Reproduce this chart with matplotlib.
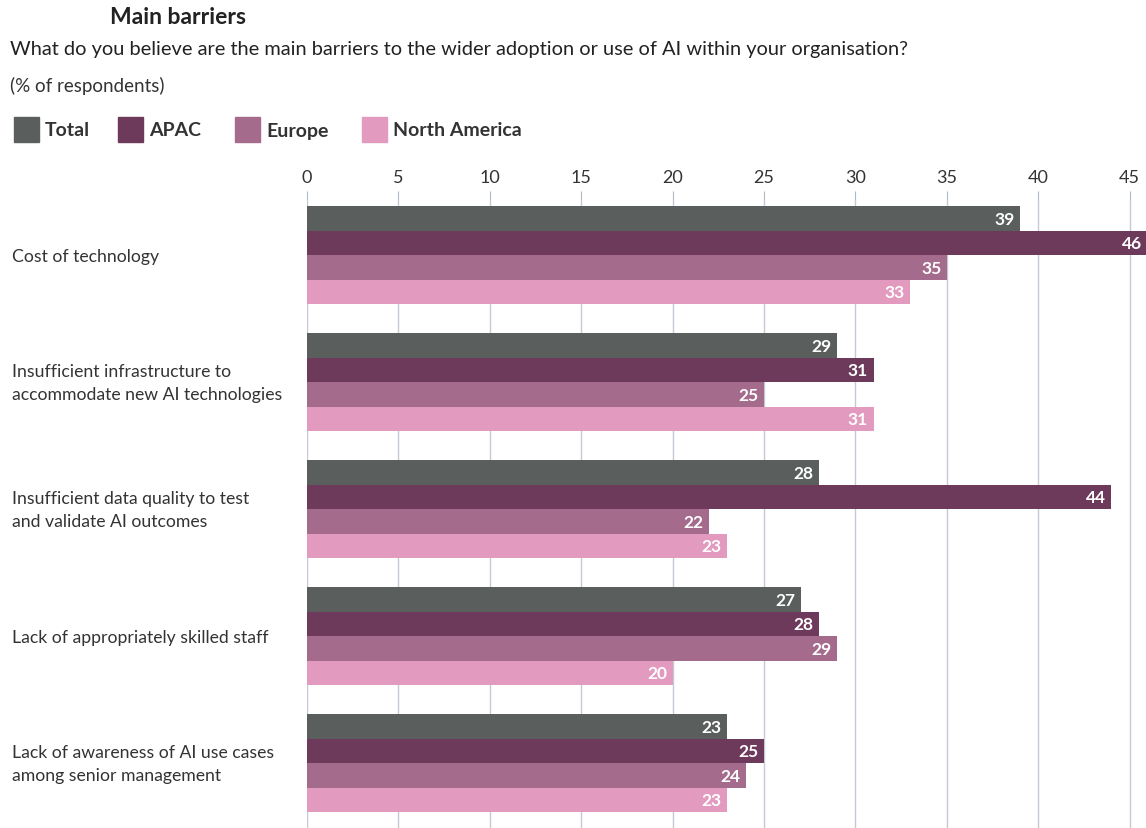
import numpy as np
import matplotlib.pyplot as plt
from matplotlib.patches import Rectangle

plt.rcParams['font.family'] = ['Lato', 'DejaVu Sans']

categories = ['Cost of technology',
              'Insufficient infrastructure to\naccommodate new AI technologies',
              'Insufficient data quality to test\nand validate AI outcomes',
              'Lack of appropriately skilled staff',
              'Lack of awareness of AI use cases\namong senior management']
series = ['Total', 'APAC', 'Europe', 'North America']
total = [39, 29, 28, 27, 23]
apac = [46, 31, 44, 28, 25]
europe = [35, 25, 22, 29, 24]
north_america = [33, 31, 23, 20, 23]
colors = ['#5a5f5e', '#6e3a5c', '#a56b8c', '#e29abf']

fig = plt.figure(figsize=(11.46, 8.29), dpi=100)
W, H = 1146, 829
ax = fig.add_axes([307 / W, 0, 1 - 307 / W, (829 - 200) / H])

h = 0.193
y = np.arange(len(categories))
for i, vals in enumerate([total, apac, europe, north_america]):
    pos = y + (i - 1.5) * h
    ax.barh(pos, vals, height=h, color=colors[i], zorder=2)
    for p, v in zip(pos, vals):
        ax.text(v - 0.3, p, str(v), ha='right', va='center', color='white',
                fontsize=12.5, fontweight='bold', zorder=3)

ax.set_xlim(0, 45.9)
ax.set_ylim(4.51, -0.445)
ax.set_xticks(range(0, 46, 5))
ax.xaxis.tick_top()
ax.tick_params(axis='x', length=6, color='#b0b8c4', labelsize=13, labelcolor='#333333', pad=4)
ax.tick_params(axis='y', left=False, labelleft=False)
ax.grid(axis='x', color='#c3cad6', linewidth=1, zorder=0)
for s in ax.spines.values():
    s.set_visible(False)

for yy, c in zip(y, categories):
    fig.text(12 / W, 1 - (200 + (yy + 0.445) * 127) / H, c, ha='left', va='center',
             fontsize=12.7, color='#333333', linespacing=1.6)

fig.text(110 / W, 1 - 18 / H, 'Main barriers', fontsize=16.5, fontweight='bold',
         color='#222222', va='center')
fig.text(10 / W, 1 - 49 / H,
         'What do you believe are the main barriers to the wider adoption or use of AI within your organisation?',
         fontsize=14.4, color='#222222', va='center')
fig.text(10 / W, 1 - 86 / H, '(% of respondents)', fontsize=13.5, color='#333333', va='center')

legend_x = [14, 118, 235, 362]
for lx, name, c in zip(legend_x, series, colors):
    fig.patches.append(Rectangle((lx / W, 1 - 143 / H), 25 / W, 25 / H,
                                 transform=fig.transFigure, color=c))
    fig.text((lx + 31) / W, 1 - 131 / H, name, fontsize=14, fontweight='bold',
             color='#333333', va='center')

fig.savefig('out.png', dpi=100)
